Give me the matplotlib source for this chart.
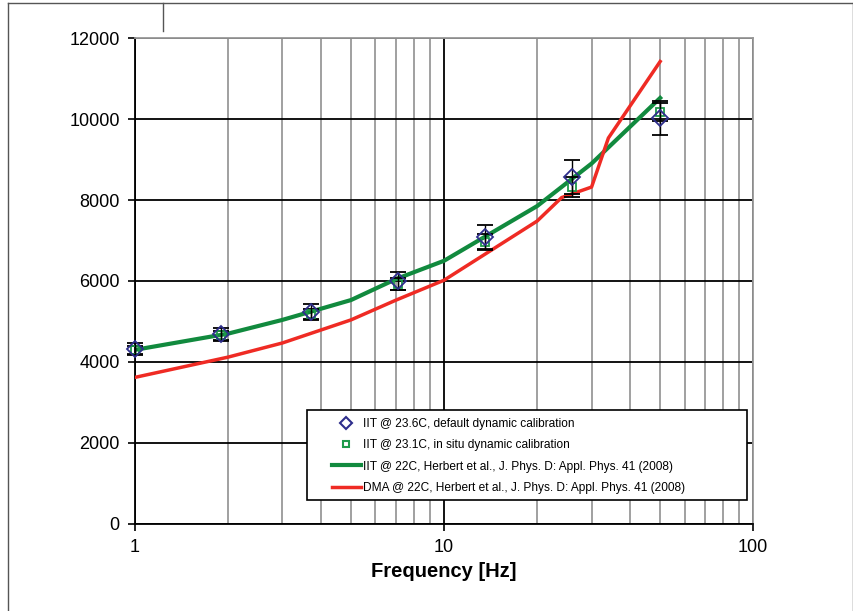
import numpy as np
import matplotlib.pyplot as plt
from matplotlib.lines import Line2D
from matplotlib.patches import Rectangle

plt.rcParams['font.family'] = ['Liberation Sans', 'DejaVu Sans']

# measured points (Hz, MPa-ish modulus)
f_meas = [1, 1.9, 3.7, 7.1, 13.6, 26, 50]
iit_default = [4330, 4680, 5230, 6010, 7080, 8570, 10030]
iit_default_err = [150, 160, 200, 220, 300, 420, 420]
iit_insitu = [4290, 4660, 5190, 5930, 6960, 8330, 10180]
iit_insitu_err = [100, 110, 130, 150, 200, 250, 220]

# reference curves
f_iit = [1, 2, 3, 5, 7, 10, 20, 30, 50]
iit_ref = [4300, 4700, 5040, 5530, 6050, 6500, 7850, 8900, 10520]
f_dma = [1, 2, 3, 5, 7, 10, 20, 24, 30, 34, 50]
dma_ref = [3620, 4120, 4470, 5040, 5530, 6020, 7480, 8060, 8320, 9530, 11420]

labels = ['IIT @ 23.6C, default dynamic calibration',
          'IIT @ 23.1C, in situ dynamic calibration',
          'IIT @ 22C, Herbert et al., J. Phys. D: Appl. Phys. 41 (2008)',
          'DMA @ 22C, Herbert et al., J. Phys. D: Appl. Phys. 41 (2008)']

fig = plt.figure(figsize=(8.54, 6.11), dpi=100)
ax = fig.add_axes([0.158, 0.1424, 0.724, 0.7954])

ax.plot(f_iit, iit_ref, color='#118a3e', lw=3, label=labels[2], zorder=3)
ax.plot(f_dma, dma_ref, color='#ef2b24', lw=2.5, label=labels[3], zorder=3)
eb1 = ax.errorbar(f_meas, iit_insitu, yerr=iit_insitu_err, fmt='s', ms=6, mfc='none',
                  mec='#1e9a4a', mew=1.3, ecolor='black', elinewidth=1, capsize=5.5,
                  label=labels[1], zorder=4)
eb2 = ax.errorbar(f_meas, iit_default, yerr=iit_default_err, fmt='D', ms=8.5, mfc='none',
                  mec='#2e2e8c', mew=1.3, ecolor='black', elinewidth=1, capsize=5.5,
                  label=labels[0], zorder=5)
for eb in (eb1, eb2):
    for art in eb.get_children():
        art.set_clip_on(False)

ax.set_xscale('log')
ax.set_xlim(1, 100)
ax.set_ylim(0, 12000)
ax.set_yticks(np.arange(0, 12001, 2000))
ax.set_xticks([1, 10, 100])
ax.set_xticklabels(['1', '10', '100'])
ax.tick_params(axis='both', labelsize=13, length=5, width=1.2, direction='out', pad=6)
ax.tick_params(axis='x', which='minor', length=0)

ax.grid(True, which='major', axis='y', color='black', lw=1.3)
ax.grid(True, which='major', axis='x', color='black', lw=1.3)
ax.grid(True, which='minor', axis='x', color='#999999', lw=1.3)
ax.set_axisbelow(True)
for s in ['top', 'right']:
    ax.spines[s].set_color('#999999')
    ax.spines[s].set_linewidth(1.3)
for s in ['left', 'bottom']:
    ax.spines[s].set_linewidth(1.3)

ax.set_xlabel('Frequency [Hz]', fontsize=14.5, fontweight='bold', labelpad=4)

# legend box drawn separately so the entries can sit inset like the original
ax.add_patch(Rectangle((0.278, 0.049), 0.712, 0.186, transform=ax.transAxes,
                       facecolor='white', edgecolor='black', lw=1.2, zorder=6))
h, l = ax.get_legend_handles_labels()
order = [3, 2, 0, 1]
h2 = []
for i in order:
    hh = h[i]
    if hasattr(hh, 'lines'):
        src = hh.lines[0]
        hh = Line2D([], [], ls='none', marker=src.get_marker(), ms=src.get_markersize() * 0.75,
                    mfc='none', mec=src.get_markeredgecolor(), mew=1.5)
    h2.append(hh)
leg = ax.legend(h2, [l[i] for i in order], loc='center left',
                bbox_to_anchor=(0.318, 0.140), borderaxespad=0, borderpad=0,
                fontsize=8.6, frameon=False, handlelength=2.5, handletextpad=0.15,
                labelspacing=0.78)
leg.set_zorder(7)

# outer frame of the scanned figure
for xs, ys in [([0.009, 0.009], [0, 0.995]), ([0.009, 0.999], [0.995, 0.995]),
               ([0.999, 0.999], [0, 0.995]), ([0.191, 0.191], [0.95, 0.995])]:
    fig.add_artist(Line2D(xs, ys, color='#555555', lw=1, transform=fig.transFigure))

fig.savefig('out.png', dpi=100)
